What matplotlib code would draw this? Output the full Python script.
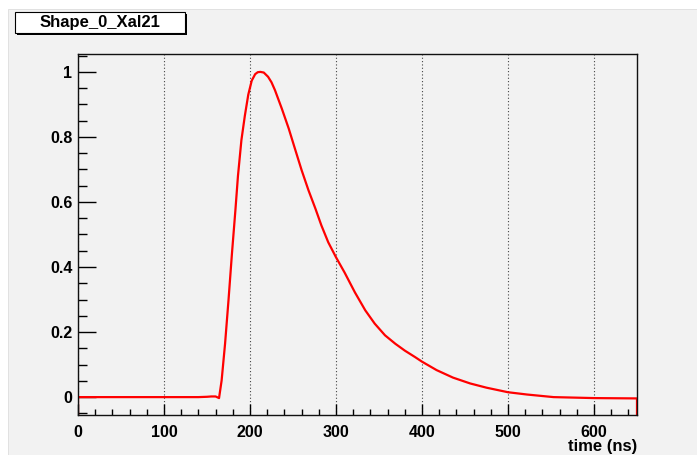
import matplotlib.pyplot as plt
from matplotlib.patches import Rectangle
from matplotlib.ticker import MultipleLocator, FuncFormatter

# pulse shape
time_ns = [0, 20, 60, 100, 140, 150, 155, 160, 164, 167, 171, 175, 179, 183, 186,
           190, 194, 198, 202, 206, 209, 212, 216, 221, 225, 229, 237, 245, 252, 260,
           268, 276, 283, 291, 300, 310, 322, 334, 345, 357, 369, 380, 392, 400, 417,
           436, 456, 475, 500, 522, 553, 600, 650]
amplitude = [0, 0, 0, 0, 0, 0.001, 0.002, 0.002, -0.003, 0.051, 0.164, 0.298, 0.441, 0.574, 0.68,
             0.79, 0.865, 0.93, 0.973, 0.993, 0.999, 1.0, 0.998, 0.985, 0.968, 0.944, 0.887, 0.826, 0.766, 0.698,
             0.636, 0.58, 0.528, 0.476, 0.43, 0.383, 0.322, 0.267, 0.226, 0.19, 0.164, 0.143, 0.123, 0.109, 0.083,
             0.06, 0.042, 0.029, 0.015, 0.008, 0.0, -0.003, -0.004]
title = 'Shape_0_Xal21'
x_label = 'time (ns)'

plt.rcParams['font.family'] = ['Liberation Sans', 'DejaVu Sans']
plt.rcParams['font.weight'] = 'bold'

bg = '#f2f2f2'
fig = plt.figure(figsize=(6.97, 4.55), dpi=100, facecolor='white')
fig.patches.append(Rectangle((8 / 697, 0), 1, 1 - 9 / 455, transform=fig.transFigure,
                             facecolor=bg, edgecolor='#dddddd', lw=0.6, zorder=-10))

ax = fig.add_axes([78 / 697, 40 / 455, 559 / 697, 361 / 455])
ax.set_facecolor(bg)

ymin, ymax = -0.055, 1.055
ax.plot(time_ns, amplitude, color='red', lw=1.6, zorder=2)
# histogram outline drops to the frame bottom at both ends
ax.vlines([time_ns[0], time_ns[-1]], ymin, [amplitude[0], amplitude[-1]], color='red', lw=1.6, zorder=2)

ax.set_xlim(0, 650)
ax.set_ylim(ymin, ymax)

ax.xaxis.set_major_locator(MultipleLocator(100))
ax.xaxis.set_minor_locator(MultipleLocator(20))
ax.yaxis.set_major_locator(MultipleLocator(0.2))
ax.yaxis.set_minor_locator(MultipleLocator(0.05))
ax.yaxis.set_major_formatter(FuncFormatter(lambda v, p: '%g' % round(v, 2)))

ax.tick_params(axis='x', which='major', direction='in', length=8, width=1, pad=7, labelsize=11.5)
ax.tick_params(axis='x', which='minor', direction='in', length=4, width=1)
ax.tick_params(axis='y', which='major', direction='in', length=13, width=1, pad=4, labelsize=11.5)
ax.tick_params(axis='y', which='minor', direction='in', length=6.5, width=1)

for sp in ax.spines.values():
    sp.set_linewidth(1.0)
    sp.set_color('#111111')

ax.grid(axis='x', which='major', color='#444444', lw=0.8, linestyle=(0, (1, 2)))
ax.set_axisbelow(True)

ax.set_xlabel(x_label, fontsize=12, fontweight='bold')
ax.xaxis.set_label_coords(1.0, -0.066)
ax.xaxis.label.set_horizontalalignment('right')

# title box with shadow
sx, sy = 1 / 697, 1 / 455
fig.patches.append(Rectangle((17 * sx, 1 - 35 * sy), 170 * sx, 21 * sy, transform=fig.transFigure,
                             facecolor='black', edgecolor='none', zorder=3))
fig.patches.append(Rectangle((15 * sx, 1 - 33 * sy), 170 * sx, 21 * sy, transform=fig.transFigure,
                             facecolor='white', edgecolor='black', lw=0.8, zorder=4))
fig.text(100 * sx, 1 - 22.5 * sy, title, ha='center', va='center', fontsize=12,
         fontweight='bold', zorder=5)

plt.savefig('out.png', dpi=100, facecolor=fig.get_facecolor())
